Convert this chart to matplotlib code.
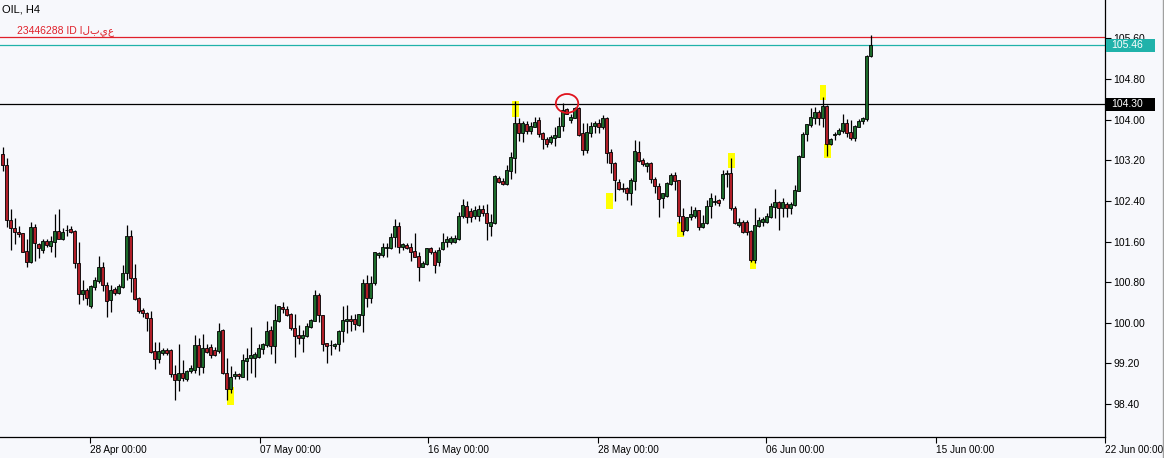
import matplotlib
matplotlib.use("Agg")
import matplotlib.pyplot as plt
from matplotlib.patches import Rectangle, Ellipse
from matplotlib.lines import Line2D
from matplotlib.transforms import blended_transform_factory
from matplotlib import font_manager
import numpy as np

# ---------------- data (OIL, H4) ----------------
opens = [103.32,103.11,102.02,101.87,101.79,101.76,101.41,101.20,101.88,101.55,
101.43,101.61,101.51,101.60,101.81,101.65,101.83,101.84,101.81,101.17,
100.56,100.65,100.32,100.71,100.83,101.09,100.74,100.44,100.67,100.59,
100.71,100.97,101.71,100.88,100.48,100.25,100.19,100.09,99.44,99.29,
99.40,99.47,99.46,98.99,98.87,99.01,98.89,99.04,99.07,99.56,
99.12,99.50,99.52,99.46,99.45,99.86,99.02,98.69,98.96,98.99,
98.94,99.25,99.30,99.31,99.33,99.48,99.56,99.86,99.55,100.04,
100.31,100.28,100.17,99.90,99.76,99.69,99.74,99.92,100.04,100.55,
100.15,99.60,99.57,99.54,99.58,99.84,100.04,100.08,100.07,99.95,
100.15,100.78,100.49,100.78,101.33,101.33,101.47,101.47,101.68,101.91,
101.50,101.53,101.50,101.41,101.31,101.10,101.16,101.47,101.40,101.20,
101.45,101.60,101.60,101.60,101.65,102.10,102.29,102.20,102.10,102.10,
102.24,102.16,101.91,101.96,102.86,102.80,102.73,102.99,103.25,103.93,
103.73,103.91,103.78,103.86,103.99,103.74,103.61,103.55,103.64,103.66,
103.87,104.20,103.99,104.04,104.22,103.73,103.40,103.74,103.87,103.93,
103.86,104.04,103.37,103.15,102.78,102.65,102.65,102.55,102.80,103.37,
103.21,103.09,103.15,102.84,102.69,102.45,102.50,102.73,102.91,102.81,
102.10,101.83,102.08,102.11,102.22,101.89,101.96,102.29,102.37,102.42,
102.45,102.93,102.95,102.25,101.92,101.99,101.99,101.81,101.24,101.91,
101.99,101.99,102.09,102.27,102.38,102.25,102.34,102.25,102.32,102.60,
103.27,103.72,103.89,104.03,104.16,104.03,104.27,103.53,103.69,103.71,
103.78,103.93,103.75,103.63,103.86,103.97,104.01,105.25]

highs = [103.46,103.24,102.24,102.06,101.91,101.77,101.64,101.98,101.94,101.57,
101.64,101.64,101.70,102.14,102.24,101.87,101.92,101.91,101.82,101.59,
100.84,100.68,100.74,100.91,101.31,101.20,100.81,100.74,100.71,100.76,
101.13,101.93,101.82,101.16,100.50,100.29,100.21,100.24,99.63,99.63,
99.50,99.50,99.48,99.17,99.58,99.27,99.07,99.17,99.76,99.69,
99.78,99.58,99.58,99.53,99.99,99.87,99.30,99.15,99.04,99.02,
99.39,99.50,99.92,99.43,99.58,99.61,100.04,99.94,100.37,100.33,
100.40,100.32,100.19,100.17,99.95,99.86,99.99,100.07,100.65,100.59,
100.16,99.61,99.66,99.61,99.85,100.32,100.35,100.15,100.17,100.18,
100.86,100.94,100.92,101.40,101.40,101.58,101.57,101.77,102.04,101.99,
101.57,101.57,101.58,101.76,101.40,101.22,101.48,101.49,101.43,101.49,
101.76,101.70,101.71,101.73,102.19,102.43,102.39,102.26,102.30,102.32,
102.32,102.34,102.14,102.91,102.89,102.85,103.11,103.37,104.37,104.03,
103.98,103.97,103.95,104.06,104.06,103.76,103.66,103.70,103.86,104.06,
104.32,104.22,104.12,104.25,104.25,103.93,103.93,103.96,103.98,104.01,
104.09,104.06,103.42,103.17,102.83,102.75,102.68,102.85,103.60,103.57,
103.24,103.17,103.17,102.88,102.75,102.56,102.78,102.94,102.97,102.82,
102.25,102.09,102.29,102.27,102.23,102.12,102.42,102.56,102.52,102.44,
103.01,103.01,103.24,102.29,102.06,102.02,102.02,101.83,102.25,102.08,
102.08,102.17,102.35,102.63,102.40,102.45,102.37,102.38,102.71,103.30,
103.76,103.92,104.22,104.25,104.19,104.45,104.29,103.63,103.76,103.83,
104.11,104.01,103.99,103.89,104.01,104.05,105.27,105.67]

lows = [102.99,101.88,101.43,101.55,101.69,101.39,101.10,101.17,101.22,101.27,
101.38,101.50,101.40,101.29,101.64,101.62,101.70,101.77,101.07,100.36,
100.44,100.34,100.30,100.65,100.78,100.63,100.11,100.22,100.55,100.57,
100.68,100.84,100.61,100.45,100.19,100.11,99.84,99.40,99.09,99.20,
99.37,99.37,98.93,98.47,98.65,98.86,98.86,99.02,99.02,98.97,
99.01,99.40,99.30,99.35,99.40,98.99,98.48,98.62,98.89,98.89,
98.93,98.87,99.02,98.94,99.30,99.39,99.53,99.39,99.21,100.02,
100.19,100.14,99.86,99.33,99.58,99.43,99.72,99.89,100.03,100.01,
99.45,99.21,99.37,99.48,99.44,99.62,99.79,99.84,99.86,99.94,
99.82,100.31,100.39,100.74,101.27,101.30,101.30,101.46,101.50,101.37,
101.43,101.45,101.22,101.29,100.83,101.09,101.14,101.35,100.97,101.12,
101.43,101.50,101.55,101.58,101.63,102.06,101.96,101.99,102.04,102.00,
102.10,101.63,101.71,101.94,102.75,102.71,102.71,102.83,102.95,103.57,
103.55,103.72,103.72,103.85,103.66,103.42,103.47,103.53,103.48,103.65,
103.78,104.11,103.94,104.03,103.68,103.30,103.35,103.66,103.73,103.74,
103.82,103.14,102.95,102.39,102.61,102.58,102.42,102.32,102.61,103.17,
103.09,102.97,102.76,102.55,102.09,102.25,102.48,102.71,102.61,101.96,
101.73,101.81,102.02,102.06,101.83,101.86,101.94,102.07,102.32,102.30,
102.42,102.68,102.23,101.94,101.89,101.77,101.73,101.20,101.17,101.89,
101.91,101.97,102.06,102.07,101.83,102.08,102.09,102.15,102.29,102.59,
103.26,103.57,103.86,103.91,103.89,103.85,103.28,103.50,103.60,103.70,
103.73,103.66,103.60,103.57,103.85,103.91,103.98,105.24]

closes = [103.10,102.02,101.86,101.79,101.75,101.40,101.20,101.88,101.57,101.47,
101.61,101.53,101.61,101.81,101.65,101.79,101.82,101.79,101.17,100.56,
100.65,100.49,100.72,100.84,101.09,100.74,100.42,100.65,100.59,100.72,
100.97,101.70,100.88,100.46,100.24,100.19,100.09,99.43,99.29,99.44,
99.46,99.40,98.99,98.87,99.01,98.92,99.05,99.10,99.56,99.12,
99.50,99.43,99.37,99.37,99.84,99.01,98.69,98.93,99.00,98.95,
99.27,99.31,99.37,99.38,99.51,99.58,99.84,99.55,100.06,100.32,
100.28,100.15,99.89,99.74,99.69,99.76,99.94,100.06,100.55,100.15,
99.58,99.55,99.56,99.58,99.84,100.06,100.07,100.03,99.97,100.17,
100.78,100.49,100.78,101.39,101.37,101.50,101.50,101.68,101.91,101.50,
101.55,101.48,101.40,101.30,101.10,101.18,101.47,101.40,101.14,101.43,
101.60,101.65,101.66,101.67,102.11,102.32,102.09,102.08,102.22,102.24,
102.16,101.97,101.99,102.89,102.78,102.73,103.01,103.27,103.94,103.74,
103.93,103.78,103.87,103.96,103.72,103.61,103.53,103.66,103.70,103.87,
104.19,104.12,104.06,104.22,103.70,103.40,103.76,103.87,103.93,103.85,
104.04,103.35,103.14,102.81,102.63,102.63,102.55,102.81,103.38,103.19,
103.13,103.15,102.84,102.69,102.43,102.55,102.75,102.91,102.80,102.11,
101.81,102.08,102.14,102.22,101.89,101.96,102.29,102.45,102.40,102.35,
102.93,102.95,102.25,101.97,101.99,101.79,101.79,101.24,101.93,102.02,
102.04,102.10,102.29,102.38,102.25,102.37,102.25,102.34,102.61,103.28,
103.72,103.91,104.05,104.16,104.03,104.27,103.53,103.61,103.71,103.80,
103.93,103.74,103.63,103.87,103.98,104.03,105.25,105.46]

price_ticks = [98.40, 99.20, 100.00, 100.80, 101.60, 102.40, 103.20, 104.00, 104.80, 105.60]
date_labels = ['28 Apr 00:00', '07 May 00:00', '16 May 00:00', '28 May 00:00',
               '06 Jun 00:00', '15 Jun 00:00', '22 Jun 00:00']
date_bars = [21.9, 64.25, 106.4, 148.75, 190.9, 233.25, 275.6]

bid_price = 105.46
level_price = 104.30
order_price = 105.62
order_label = '23446288 ID البيع'
symbol_label = 'OIL, H4'

# yellow highlight marks: bar position, top price, bottom price
mark_bars = [56.9, 128.15, 151.8, 169.5, 182.2, 187.6, 205.1, 206.3]
mark_tops = [98.74, 104.37, 102.56, 101.99, 103.35, 101.24, 104.68, 103.53]
mark_bots = [98.38, 104.06, 102.24, 101.68, 103.04, 101.05, 104.39, 103.24]

# red hand-drawn circle: bar, price
circle_bar, circle_price = 141.1, 104.32

# ---------------- figure ----------------
names = {f.name for f in font_manager.fontManager.ttflist}
main_font = 'Liberation Sans' if 'Liberation Sans' in names else 'DejaVu Sans'
narrow_font = 'Liberation Sans Narrow' if 'Liberation Sans Narrow' in names else main_font
narrow_size = 8.8 if narrow_font == 'Liberation Sans Narrow' else 7.2

W, H = 1164, 458
bg = '#F7F8FC'
fig = plt.figure(figsize=(W / 100, H / 100), dpi=100)
fig.patch.set_facecolor(bg)
ax = fig.add_axes([0, 21 / H, 1105 / W, 437 / H])
ax.set_facecolor(bg)

o = np.array(opens); h = np.array(highs); l = np.array(lows); c = np.array(closes)
x = np.arange(len(o))
up = c >= o
bull, bear = '#1C6A2A', '#B01E28'

ax.vlines(x, l, h, color='black', lw=0.9, zorder=3)
bb = np.minimum(o, c)
bh = np.abs(c - o)
ax.bar(x[up], bh[up], bottom=bb[up], width=0.75, color=bull,
       edgecolor='black', linewidth=0.6, zorder=4)
ax.bar(x[~up], bh[~up], bottom=bb[~up], width=0.75, color=bear,
       edgecolor='black', linewidth=0.6, zorder=4)

for xb, t, b in zip(mark_bars, mark_tops, mark_bots):
    ax.add_patch(Rectangle((xb - 0.85, b), 1.7, t - b, facecolor='#FFFF00',
                           edgecolor='none', zorder=1))

ax.add_patch(Ellipse((circle_bar, circle_price), 5.6, 0.37, facecolor='none',
                     edgecolor='#E0141E', lw=1.3, zorder=5))

ax.axhline(level_price, color='black', lw=0.9, zorder=2)
ax.axhline(bid_price, color='#20B2AA', lw=0.9, zorder=2)
ax.axhline(order_price, color='#E0202A', lw=0.9, zorder=2)

ax.set_xlim(-0.675, 275.6)
ax.set_ylim(97.75, 106.356)

ax.yaxis.tick_right()
ax.set_yticks(price_ticks)
ax.set_yticklabels([f'{v:.2f}' for v in price_ticks], fontfamily=main_font, fontsize=7.5)
ax.tick_params(axis='y', direction='out', length=4, width=0.8, pad=2, colors='black')

ax.set_xticks(date_bars)
ax.set_xticklabels(date_labels, fontfamily=narrow_font, fontsize=narrow_size)
for lbl in ax.get_xticklabels():
    lbl.set_horizontalalignment('left')
ax.tick_params(axis='x', direction='out', length=4, width=0.8, pad=2.0, colors='black')

for s in ['left', 'top']:
    ax.spines[s].set_visible(False)
for s in ['right', 'bottom']:
    ax.spines[s].set_color('black')
    ax.spines[s].set_linewidth(0.9)

# price boxes on the right axis
trans = blended_transform_factory(fig.transFigure, ax.transData)
box_h = 0.264
for price, col in [(bid_price, '#20B2AA'), (level_price, 'black')]:
    ax.add_patch(Rectangle((1106 / W, price - box_h / 2), 49 / W, box_h,
                           transform=trans, facecolor=col, edgecolor='none',
                           clip_on=False, zorder=6))
    ax.text(1111.5 / W, price, f'{price:.2f}', transform=trans, color='white',
            fontfamily=main_font, fontsize=7.5, ha='left', va='center',
            clip_on=False, zorder=7)

# texts
fig.text(2 / W, 1 - 10 / H, symbol_label, fontfamily=main_font, fontsize=8,
         color='black', ha='left', va='center')
ax.text(3.6, 105.745, order_label, family=[main_font, 'DejaVu Sans'], fontsize=7.5,
        color='#E0202A', ha='left', va='center', zorder=6)

fig.add_artist(Line2D([1162.5 / W, 1162.5 / W], [0, 1], transform=fig.transFigure,
                      color='#A0A0A0', lw=1))

fig.savefig('out.png', dpi=100, facecolor=bg)
